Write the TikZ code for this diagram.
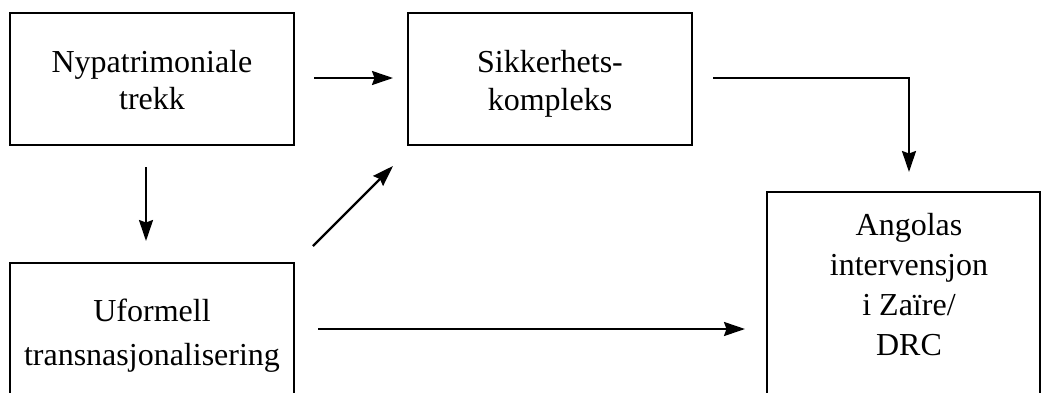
\documentclass[tikz,border=0pt]{standalone}
\usepackage{fontspec}
\setmainfont{Liberation Serif}
\usetikzlibrary{arrows.meta,calc}
\begin{document}
\begin{tikzpicture}[x=1pt,y=-1pt,
  box/.style={draw,line width=2.6pt,inner sep=0pt,outer sep=0pt},
  lbl/.style={align=center,inner sep=0pt},
  conn/.style={line width=2.2pt,-{Stealth[length=21pt,width=14pt,inset=2.5pt]}}]
\useasboundingbox (0,0) rectangle (1042,392);
% boxes
\node[box,minimum width=284pt,minimum height=132pt] (b1) at (152,79) {};
\node[box,minimum width=284pt,minimum height=132pt] (b2) at (550,79) {};
\node[box,minimum width=284pt,minimum height=132pt] (b3) at (152,329) {};
\node[box,minimum width=273pt,minimum height=208pt] (b4) at (903.5,296) {};
% texts
\node[lbl,font=\fontsize{32}{37.7}\selectfont] (t1) at (152,80.1) {Nypatrimoniale\\trekk};
\node[lbl,font=\fontsize{32}{37.7}\selectfont] (t2) at (550,83.5) {Sikkerhets-\\kompleks};
\node[lbl,font=\fontsize{32}{44}\selectfont] (t3) at (152,335.5) {Uformell\\transnasjonalisering};
\node[lbl,font=\fontsize{32}{40}\selectfont] (t4) at (909,284.5) {Angolas\\intervensjon\\i Zaïre/\\DRC};
% connectors
\draw[conn,shorten <=20pt,shorten >=15pt] ([yshift=1pt]b1.east) -- ([yshift=1pt]b2.west);
\draw[conn,shorten <=22pt,shorten >=22pt] ([xshift=-6pt]b1.south) -- ([xshift=-6pt]b3.north);
\draw[conn] ($(b3.north east)+(19,-17)$) -- ($(b2.south west)+(-15,21)$);
\draw[conn,shorten <=24pt,shorten >=22pt] (b3.east) -- (b3.east -| b4.west);
\draw[conn,shorten <=21pt,shorten >=20pt] ([yshift=1pt]b2.east) -| ([xshift=5.5pt]b4.north);
\end{tikzpicture}
\end{document}
